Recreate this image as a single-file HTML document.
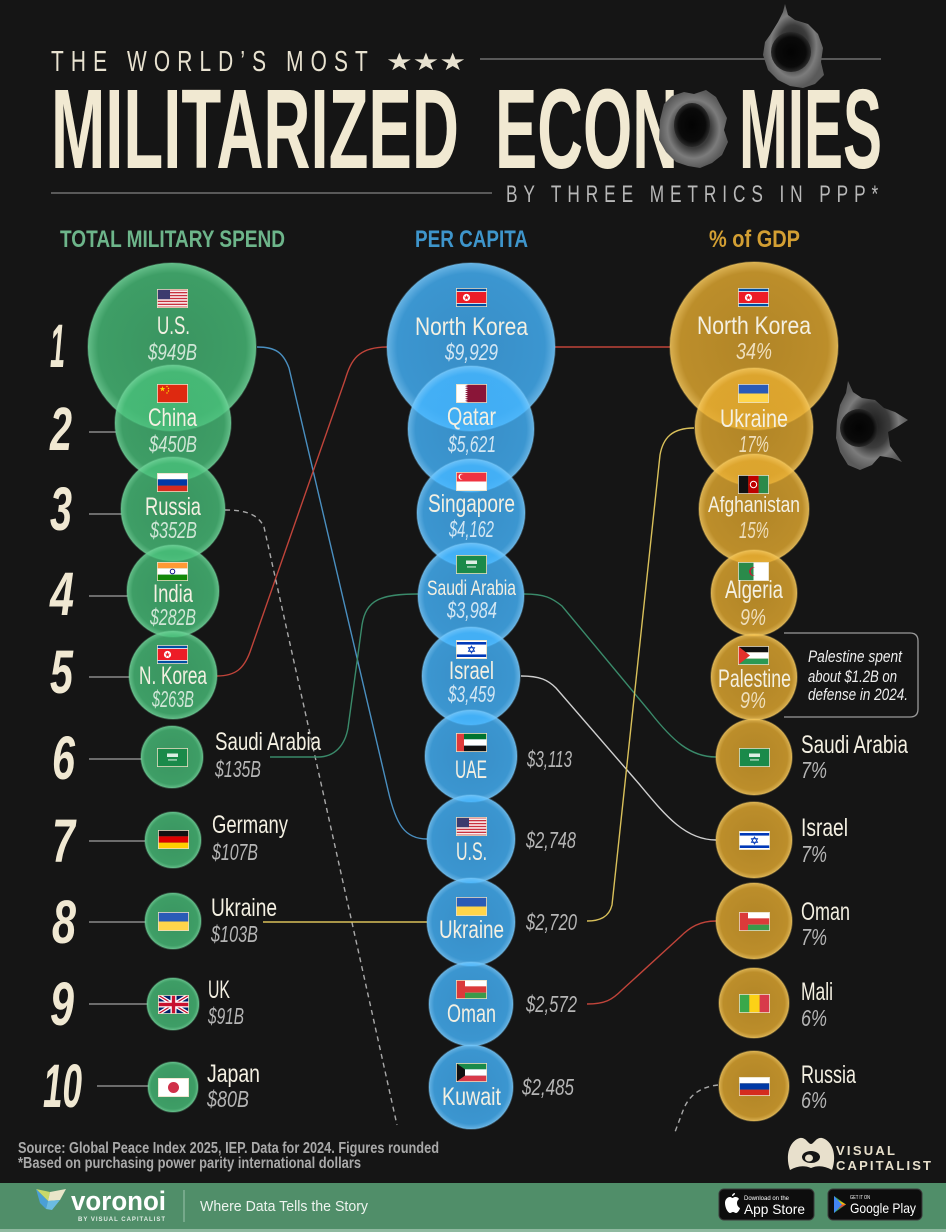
<!DOCTYPE html>
<html><head><meta charset="utf-8">
<style>
html,body{margin:0;padding:0;background:#151515;}
svg{display:block;}
.n{fill:#f4f0e2;font-size:25px;}
.v{font-style:italic;font-size:23px;}
.vg{fill:#cfe6d6;}
.vb{fill:#d2e6f3;}
.vo{fill:#efdfbd;}
.vx{fill:#b5b5b5;}
.rk{fill:#f0e8d2;font-size:61px;font-style:italic;font-weight:bold;}
</style></head><body>
<svg width="946" height="1232" viewBox="0 0 946 1232" xmlns="http://www.w3.org/2000/svg" font-family="'Liberation Sans Narrow','Liberation Sans',sans-serif">
<defs>
<radialGradient id="gG"><stop offset="0" stop-color="#46bc78" stop-opacity="0.76"/><stop offset="0.88" stop-color="#48c07a" stop-opacity="0.8"/><stop offset="1" stop-color="#6ed498" stop-opacity="0.88"/></radialGradient>
<radialGradient id="gB"><stop offset="0" stop-color="#43b4ff" stop-opacity="0.76"/><stop offset="0.88" stop-color="#45b6ff" stop-opacity="0.8"/><stop offset="1" stop-color="#72c8ff" stop-opacity="0.88"/></radialGradient>
<radialGradient id="gO"><stop offset="0" stop-color="#e2a82c" stop-opacity="0.76"/><stop offset="0.88" stop-color="#e6ac30" stop-opacity="0.8"/><stop offset="1" stop-color="#f5c65a" stop-opacity="0.88"/></radialGradient>
<radialGradient id="holeRing"><stop offset="0" stop-color="#1a1a1a"/><stop offset="0.5" stop-color="#3c3c3c"/><stop offset="0.75" stop-color="#7c7c7c"/><stop offset="1" stop-color="#5a5a5a"/></radialGradient>
<radialGradient id="holeIn"><stop offset="0" stop-color="#030303"/><stop offset="0.75" stop-color="#0a0a0a"/><stop offset="1" stop-color="#2a2a2a"/></radialGradient>

<symbol id="f-us" viewBox="0 0 31 19"><rect width="31" height="19" fill="#fff"/><rect y="0" width="31" height="1.46" fill="#c8313e"/><rect y="2.92" width="31" height="1.46" fill="#c8313e"/><rect y="5.85" width="31" height="1.46" fill="#c8313e"/><rect y="8.77" width="31" height="1.46" fill="#c8313e"/><rect y="11.69" width="31" height="1.46" fill="#c8313e"/><rect y="14.62" width="31" height="1.46" fill="#c8313e"/><rect y="17.54" width="31" height="1.46" fill="#c8313e"/><rect width="13" height="10.2" fill="#3c3b6e"/><rect x=".4" y=".4" width="30.2" height="18.2" fill="none" stroke="#e9dfc4" stroke-width=".8"/></symbol>
<symbol id="f-cn" viewBox="0 0 31 19"><rect width="31" height="19" fill="#de2910"/><polygon points="5.5,2 6.18,4.07 8.35,4.07 6.59,5.36 7.26,7.43 5.5,6.15 3.74,7.43 4.41,5.36 2.65,4.07 4.82,4.07" fill="#ffde00"/><circle cx="10" cy="2.5" r=".7" fill="#ffde00"/><circle cx="11.5" cy="4.5" r=".7" fill="#ffde00"/><circle cx="11.5" cy="7" r=".7" fill="#ffde00"/><circle cx="10" cy="9" r=".7" fill="#ffde00"/><rect x=".4" y=".4" width="30.2" height="18.2" fill="none" stroke="#e9dfc4" stroke-width=".8"/></symbol>
<symbol id="f-ru" viewBox="0 0 31 19"><rect width="31" height="6.33" fill="#fff"/><rect y="6.33" width="31" height="6.34" fill="#0039a6"/><rect y="12.67" width="31" height="6.33" fill="#d52b1e"/><rect x=".4" y=".4" width="30.2" height="18.2" fill="none" stroke="#e9dfc4" stroke-width=".8"/></symbol>
<symbol id="f-in" viewBox="0 0 31 19"><rect width="31" height="6.33" fill="#ff9933"/><rect y="6.33" width="31" height="6.34" fill="#fff"/><rect y="12.67" width="31" height="6.33" fill="#138808"/><circle cx="15.5" cy="9.5" r="2.3" fill="none" stroke="#000080" stroke-width=".9"/><rect x=".4" y=".4" width="30.2" height="18.2" fill="none" stroke="#e9dfc4" stroke-width=".8"/></symbol>
<symbol id="f-kp" viewBox="0 0 31 19"><rect width="31" height="19" fill="#024fa2"/><rect y="3.2" width="31" height="12.6" fill="#fff"/><rect y="4" width="31" height="11" fill="#ed1c27"/><circle cx="10.5" cy="9.5" r="3.6" fill="#fff"/><polygon points="10.5,6.8 11.13,8.73 13.16,8.73 11.52,9.93 12.15,11.87 10.5,10.67 8.85,11.87 9.48,9.93 7.84,8.73 9.87,8.73" fill="#ed1c27"/><rect x=".4" y=".4" width="30.2" height="18.2" fill="none" stroke="#e9dfc4" stroke-width=".8"/></symbol>
<symbol id="f-sa" viewBox="0 0 31 19"><rect width="31" height="19" fill="#1a8a4a"/><rect x="10" y="5.5" width="11" height="3.5" fill="#fff" opacity=".85"/><rect x="11" y="11.5" width="9" height=".9" fill="#fff"/><rect x=".4" y=".4" width="30.2" height="18.2" fill="none" stroke="#e9dfc4" stroke-width=".8"/></symbol>
<symbol id="f-de" viewBox="0 0 31 19"><rect width="31" height="6.33" fill="#111"/><rect y="6.33" width="31" height="6.34" fill="#dd0000"/><rect y="12.67" width="31" height="6.33" fill="#ffce00"/><rect x=".4" y=".4" width="30.2" height="18.2" fill="none" stroke="#e9dfc4" stroke-width=".8"/></symbol>
<symbol id="f-ua" viewBox="0 0 31 19"><rect width="31" height="9.5" fill="#2a5bb7"/><rect y="9.5" width="31" height="9.5" fill="#ffd54a"/><rect x=".4" y=".4" width="30.2" height="18.2" fill="none" stroke="#e9dfc4" stroke-width=".8"/></symbol>
<symbol id="f-gb" viewBox="0 0 31 19"><rect width="31" height="19" fill="#012169"/><path d="M0,0 L31,19 M31,0 L0,19" stroke="#fff" stroke-width="3.8"/><path d="M0,0 L31,19 M31,0 L0,19" stroke="#c8102e" stroke-width="1.2"/><path d="M15.5,0 V19 M0,9.5 H31" stroke="#fff" stroke-width="6"/><path d="M15.5,0 V19 M0,9.5 H31" stroke="#c8102e" stroke-width="3.4"/><rect x=".4" y=".4" width="30.2" height="18.2" fill="none" stroke="#e9dfc4" stroke-width=".8"/></symbol>
<symbol id="f-jp" viewBox="0 0 31 19"><rect width="31" height="19" fill="#fff"/><circle cx="15.5" cy="9.5" r="5.5" fill="#d0304a"/><rect x=".4" y=".4" width="30.2" height="18.2" fill="none" stroke="#e9dfc4" stroke-width=".8"/></symbol>
<symbol id="f-qa" viewBox="0 0 31 19"><rect width="31" height="19" fill="#8a1538"/><polygon points="0,0 9,0 12,1.06 9,2.11 12,3.17 9,4.22 12,5.28 9,6.33 12,7.39 9,8.44 12,9.5 9,10.56 12,11.61 9,12.67 12,13.72 9,14.78 12,15.83 9,16.89 12,17.94 9,19 0,19" fill="#fff"/><rect x=".4" y=".4" width="30.2" height="18.2" fill="none" stroke="#e9dfc4" stroke-width=".8"/></symbol>
<symbol id="f-sg" viewBox="0 0 31 19"><rect width="31" height="9.5" fill="#ef3340"/><rect y="9.5" width="31" height="9.5" fill="#fff"/><circle cx="5.5" cy="4.8" r="3" fill="#fff"/><circle cx="6.6" cy="4.8" r="2.7" fill="#ef3340"/><rect x=".4" y=".4" width="30.2" height="18.2" fill="none" stroke="#e9dfc4" stroke-width=".8"/></symbol>
<symbol id="f-il" viewBox="0 0 31 19"><rect width="31" height="19" fill="#fff"/><rect y="2" width="31" height="2.6" fill="#0038b8"/><rect y="14.4" width="31" height="2.6" fill="#0038b8"/><polygon points="15.5,5.9 18.62,11.3 12.38,11.3" fill="none" stroke="#0038b8" stroke-width=".8"/><polygon points="15.5,13.1 18.62,7.7 12.38,7.7" fill="none" stroke="#0038b8" stroke-width=".8"/><rect x=".4" y=".4" width="30.2" height="18.2" fill="none" stroke="#e9dfc4" stroke-width=".8"/></symbol>
<symbol id="f-ae" viewBox="0 0 31 19"><rect width="31" height="6.33" fill="#00732f"/><rect y="6.33" width="31" height="6.34" fill="#fff"/><rect y="12.67" width="31" height="6.33" fill="#111"/><rect width="8" height="19" fill="#e03a3a"/><rect x=".4" y=".4" width="30.2" height="18.2" fill="none" stroke="#e9dfc4" stroke-width=".8"/></symbol>
<symbol id="f-om" viewBox="0 0 31 19"><rect width="31" height="19" fill="#fff"/><rect y="6.33" width="31" height="6.34" fill="#db3a3a"/><rect y="12.67" width="31" height="6.33" fill="#3a9a4a"/><rect width="9" height="19" fill="#db3a3a"/><rect x=".4" y=".4" width="30.2" height="18.2" fill="none" stroke="#e9dfc4" stroke-width=".8"/></symbol>
<symbol id="f-kw" viewBox="0 0 31 19"><rect width="31" height="6.33" fill="#1a8a4a"/><rect y="6.33" width="31" height="6.34" fill="#fff"/><rect y="12.67" width="31" height="6.33" fill="#d83a4a"/><polygon points="0,0 9,6.33 9,12.67 0,19" fill="#111"/><rect x=".4" y=".4" width="30.2" height="18.2" fill="none" stroke="#e9dfc4" stroke-width=".8"/></symbol>
<symbol id="f-af" viewBox="0 0 31 19"><rect width="10.33" height="19" fill="#111"/><rect x="10.33" width="10.34" height="19" fill="#be0000"/><rect x="20.67" width="10.33" height="19" fill="#2a8a4a"/><circle cx="15.5" cy="9.5" r="3.2" fill="none" stroke="#fff" stroke-width="1"/><rect x=".4" y=".4" width="30.2" height="18.2" fill="none" stroke="#e9dfc4" stroke-width=".8"/></symbol>
<symbol id="f-dz" viewBox="0 0 31 19"><rect width="15.5" height="19" fill="#2a8a4a"/><rect x="15.5" width="15.5" height="19" fill="#fff"/><path d="M17,5.2 A4.5,4.5 0 1 0 17,13.8 A3.6,3.6 0 1 1 17,5.2 Z" fill="#d21034"/><rect x=".4" y=".4" width="30.2" height="18.2" fill="none" stroke="#e9dfc4" stroke-width=".8"/></symbol>
<symbol id="f-ps" viewBox="0 0 31 19"><rect width="31" height="6.33" fill="#111"/><rect y="6.33" width="31" height="6.34" fill="#fff"/><rect y="12.67" width="31" height="6.33" fill="#2a9954"/><polygon points="0,0 12,9.5 0,19" fill="#e4312b"/><rect x=".4" y=".4" width="30.2" height="18.2" fill="none" stroke="#e9dfc4" stroke-width=".8"/></symbol>
<symbol id="f-ml" viewBox="0 0 31 19"><rect width="10.33" height="19" fill="#3aa84a"/><rect x="10.33" width="10.34" height="19" fill="#fcd116"/><rect x="20.67" width="10.33" height="19" fill="#d83a4a"/><rect x=".4" y=".4" width="30.2" height="18.2" fill="none" stroke="#e9dfc4" stroke-width=".8"/></symbol>
</defs>

<rect width="946" height="1232" fill="#151515"/>

<!-- HEADER -->
<text transform="translate(51,71) scale(0.72,1)" font-size="29" fill="#e8e2d0" textLength="440" lengthAdjust="spacing">THE WORLD’S MOST</text>
<text x="386" y="70" font-size="24" fill="#e8e2d0" font-family="'DejaVu Sans',sans-serif" textLength="80" lengthAdjust="spacingAndGlyphs">★★★</text>
<line x1="480" y1="59" x2="881" y2="59" stroke="#707070" stroke-width="1.5"/>
<text x="51" y="168" font-size="113" font-weight="bold" fill="#f1e9d2" textLength="408" lengthAdjust="spacingAndGlyphs">MILITARIZED</text>
<text x="495" y="168" font-size="113" font-weight="bold" fill="#f1e9d2" textLength="183" lengthAdjust="spacingAndGlyphs">ECON</text>
<text x="739" y="168" font-size="113" font-weight="bold" fill="#f1e9d2" textLength="143" lengthAdjust="spacingAndGlyphs">MIES</text>
<line x1="51" y1="193" x2="492" y2="193" stroke="#707070" stroke-width="1.5"/>
<text transform="translate(506,202) scale(0.72,1)" font-size="24" fill="#b8b8b8" textLength="517" lengthAdjust="spacing">BY THREE METRICS IN PPP*</text>

<!-- bullet holes -->
<path d="M660,120 L664,104 672,96 684,92 694,94 706,90 716,97 722,108 727,118 724,130 728,142 722,155 712,163 700,168 688,166 676,162 666,152 659,140 Z" fill="url(#holeRing)"/>
<ellipse cx="692" cy="125" rx="18" ry="22" fill="url(#holeIn)"/>
<path d="M770,35 L778,22 783,12 785,4 788,15 795,20 808,24 818,34 823,48 821,62 824,75 815,84 803,88 790,86 778,80 768,70 763,55 765,42 Z" fill="url(#holeRing)"/>
<ellipse cx="791" cy="52" rx="20" ry="20" fill="url(#holeIn)"/>
<path d="M840,405 L846,393 848,381 853,392 862,398 875,400 884,408 895,412 908,420 897,427 888,432 890,446 902,462 892,458 880,456 872,465 860,470 848,465 840,452 836,438 837,420 Z" fill="url(#holeRing)"/>
<circle cx="859" cy="428" r="19" fill="url(#holeIn)"/>

<!-- column headers -->
<text x="60" y="247" font-size="24" font-weight="bold" fill="#6db58a" textLength="225" lengthAdjust="spacingAndGlyphs">TOTAL MILITARY SPEND</text>
<text x="415" y="247" font-size="24" font-weight="bold" fill="#3e95cb" textLength="113" lengthAdjust="spacingAndGlyphs">PER CAPITA</text>
<text x="709" y="247" font-size="24" font-weight="bold" fill="#d39f33" textLength="91" lengthAdjust="spacingAndGlyphs">% of GDP</text>

<!-- rank numbers -->
<text class="rk" x="50" y="367" textLength="15" lengthAdjust="spacingAndGlyphs">1</text>
<text class="rk" x="50" y="450" textLength="22" lengthAdjust="spacingAndGlyphs">2</text>
<text class="rk" x="50" y="530" textLength="22" lengthAdjust="spacingAndGlyphs">3</text>
<text class="rk" x="50" y="615" textLength="24" lengthAdjust="spacingAndGlyphs">4</text>
<text class="rk" x="50" y="693" textLength="23" lengthAdjust="spacingAndGlyphs">5</text>
<text class="rk" x="52" y="779" textLength="23" lengthAdjust="spacingAndGlyphs">6</text>
<text class="rk" x="52" y="862" textLength="23" lengthAdjust="spacingAndGlyphs">7</text>
<text class="rk" x="52" y="943" textLength="24" lengthAdjust="spacingAndGlyphs">8</text>
<text class="rk" x="50" y="1025" textLength="24" lengthAdjust="spacingAndGlyphs">9</text>
<text class="rk" x="43" y="1107" textLength="39" lengthAdjust="spacingAndGlyphs">10</text>

<!-- rank connectors -->
<g stroke="#8a8a8a" stroke-width="1.5">
<line x1="89" y1="432" x2="116" y2="432"/>
<line x1="89" y1="514" x2="122" y2="514"/>
<line x1="89" y1="596" x2="128" y2="596"/>
<line x1="89" y1="677" x2="130" y2="677"/>
<line x1="89" y1="759" x2="142" y2="759"/>
<line x1="89" y1="841" x2="145" y2="841"/>
<line x1="89" y1="922" x2="146" y2="922"/>
<line x1="89" y1="1004" x2="148" y2="1004"/>
<line x1="97" y1="1086" x2="149" y2="1086"/>
</g>

<!-- flow lines -->
<g fill="none" stroke-width="1.4">
<path d="M257,347 C275,347 283,352 289,368 L388,790 C396,825 405,839 427,839" stroke="#4a8fc0"/>
<path d="M217,676 C236,676 244,668 250,652 L345,380 C351,360 358,347 387,347" stroke="#c0443a"/>
<path d="M555,347 H670" stroke="#c0443a"/>
<path d="M225,510 C245,510 258,514 264,527 L397,1125" stroke="#a8a8a8" stroke-dasharray="5,4"/>
<path d="M718,1085 C700,1087 690,1095 684,1108 L675,1132" stroke="#a8a8a8" stroke-dasharray="5,4"/>
<path d="M270,757 H318 C335,757 345,745 348,728 L362,625 C366,600 380,594 418,594" stroke="#3a8a6a"/>
<path d="M524,594 C545,594 552,598 562,606 L650,712 C672,740 690,757 716,757" stroke="#3a8a6a"/>
<path d="M521,676 C540,676 548,680 556,688 L640,785 C665,815 685,840 716,840" stroke="#cfcfcf"/>
<path d="M263,922 H427" stroke="#d9c05a"/>
<path d="M587,921 C600,921 609,917 612,905 L660,455 C663,438 672,428 694,428" stroke="#d9c05a"/>
<path d="M587,1004 C605,1004 612,1000 622,990 L680,937 C690,927 700,921 716,921" stroke="#c0443a"/>
</g>

<!-- callout box -->
<path d="M784,633 H910 Q918,633 918,641 V709 Q918,717 910,717 H784" fill="none" stroke="#9a9a9a" stroke-width="1.3"/>

<!-- GREEN bubbles -->
<g fill="url(#gG)" stroke="#6fcf98" stroke-opacity="0.35" stroke-width="1.5">
<circle cx="172" cy="347" r="84"/>
<circle cx="173" cy="423" r="58"/>
<circle cx="173" cy="509" r="52"/>
<circle cx="173" cy="591" r="46"/>
<circle cx="173" cy="675" r="44"/>
<circle cx="172" cy="757" r="31"/>
<circle cx="173" cy="840" r="28"/>
<circle cx="173" cy="921" r="28"/>
<circle cx="173" cy="1004" r="26"/>
<circle cx="173" cy="1087" r="25"/>
</g>
<!-- BLUE bubbles -->
<g fill="url(#gB)" stroke="#7cc8f5" stroke-opacity="0.35" stroke-width="1.5">
<circle cx="471" cy="347" r="84"/>
<circle cx="471" cy="429" r="63"/>
<circle cx="471" cy="513" r="54"/>
<circle cx="471" cy="596" r="53"/>
<circle cx="471" cy="676" r="49"/>
<circle cx="471" cy="756" r="46"/>
<circle cx="471" cy="839" r="44"/>
<circle cx="471" cy="922" r="44"/>
<circle cx="471" cy="1004" r="42"/>
<circle cx="471" cy="1087" r="42"/>
</g>
<!-- GOLD bubbles -->
<g fill="url(#gO)" stroke="#f0c860" stroke-opacity="0.35" stroke-width="1.5">
<circle cx="754" cy="346" r="84"/>
<circle cx="754" cy="427" r="59"/>
<circle cx="754" cy="509" r="55"/>
<circle cx="754" cy="593" r="43"/>
<circle cx="754" cy="677" r="43"/>
<circle cx="754" cy="757" r="38"/>
<circle cx="754" cy="840" r="38"/>
<circle cx="754" cy="921" r="38"/>
<circle cx="754" cy="1003" r="35"/>
<circle cx="754" cy="1086" r="35"/>
</g>

<!-- flags green -->
<use href="#f-us" x="157" y="289" width="31" height="19"/>
<use href="#f-cn" x="157" y="384" width="31" height="19"/>
<use href="#f-ru" x="157" y="473" width="31" height="19"/>
<use href="#f-in" x="157" y="562" width="31" height="19"/>
<use href="#f-kp" x="157" y="645" width="31" height="19"/>
<use href="#f-sa" x="157" y="748" width="31" height="19"/>
<use href="#f-de" x="158" y="830" width="31" height="19"/>
<use href="#f-ua" x="158" y="912" width="31" height="19"/>
<use href="#f-gb" x="158" y="995" width="31" height="19"/>
<use href="#f-jp" x="158" y="1078" width="31" height="19"/>
<!-- flags blue -->
<use href="#f-kp" x="456" y="288" width="31" height="19"/>
<use href="#f-qa" x="456" y="384" width="31" height="19"/>
<use href="#f-sg" x="456" y="472" width="31" height="19"/>
<use href="#f-sa" x="456" y="555" width="31" height="19"/>
<use href="#f-il" x="456" y="640" width="31" height="19"/>
<use href="#f-ae" x="456" y="733" width="31" height="19"/>
<use href="#f-us" x="456" y="817" width="31" height="19"/>
<use href="#f-ua" x="456" y="897" width="31" height="19"/>
<use href="#f-om" x="456" y="980" width="31" height="19"/>
<use href="#f-kw" x="456" y="1063" width="31" height="19"/>
<!-- flags gold -->
<use href="#f-kp" x="738" y="288" width="31" height="19"/>
<use href="#f-ua" x="738" y="384" width="31" height="19"/>
<use href="#f-af" x="738" y="475" width="31" height="19"/>
<use href="#f-dz" x="738" y="562" width="31" height="19"/>
<use href="#f-ps" x="738" y="646" width="31" height="19"/>
<use href="#f-sa" x="739" y="748" width="31" height="19"/>
<use href="#f-il" x="739" y="831" width="31" height="19"/>
<use href="#f-om" x="739" y="912" width="31" height="19"/>
<use href="#f-ml" x="739" y="994" width="31" height="19"/>
<use href="#f-ru" x="739" y="1077" width="31" height="19"/>

<!-- GREEN text -->
<text class="n" x="157" y="334" textLength="33" lengthAdjust="spacingAndGlyphs">U.S.</text>
<text class="v vg" x="148" y="360" textLength="49" lengthAdjust="spacingAndGlyphs">$949B</text>
<text class="n" x="148" y="426" textLength="49" lengthAdjust="spacingAndGlyphs">China</text>
<text class="v vg" x="149" y="452" textLength="48" lengthAdjust="spacingAndGlyphs">$450B</text>
<text class="n" x="145" y="515" textLength="56" lengthAdjust="spacingAndGlyphs">Russia</text>
<text class="v vg" x="150" y="538" textLength="47" lengthAdjust="spacingAndGlyphs">$352B</text>
<text class="n" x="153" y="602" textLength="40" lengthAdjust="spacingAndGlyphs">India</text>
<text class="v vg" x="150" y="625" textLength="46" lengthAdjust="spacingAndGlyphs">$282B</text>
<text class="n" x="139" y="684" textLength="68" lengthAdjust="spacingAndGlyphs">N. Korea</text>
<text class="v vg" x="152" y="707" textLength="42" lengthAdjust="spacingAndGlyphs">$263B</text>

<text class="n" x="215" y="750" textLength="106" lengthAdjust="spacingAndGlyphs">Saudi Arabia</text>
<text class="v vx" x="215" y="777" textLength="46" lengthAdjust="spacingAndGlyphs">$135B</text>
<text class="n" x="212" y="833" textLength="76" lengthAdjust="spacingAndGlyphs">Germany</text>
<text class="v vx" x="212" y="860" textLength="46" lengthAdjust="spacingAndGlyphs">$107B</text>
<text class="n" x="211" y="916" textLength="66" lengthAdjust="spacingAndGlyphs">Ukraine</text>
<text class="v vx" x="211" y="942" textLength="47" lengthAdjust="spacingAndGlyphs">$103B</text>
<text class="n" x="208" y="998" textLength="22" lengthAdjust="spacingAndGlyphs">UK</text>
<text class="v vx" x="208" y="1024" textLength="36" lengthAdjust="spacingAndGlyphs">$91B</text>
<text class="n" x="207" y="1082" textLength="53" lengthAdjust="spacingAndGlyphs">Japan</text>
<text class="v vx" x="207" y="1107" textLength="42" lengthAdjust="spacingAndGlyphs">$80B</text>

<!-- BLUE text -->
<text class="n" x="415" y="335" textLength="113" lengthAdjust="spacingAndGlyphs">North Korea</text>
<text class="v vb" x="445" y="360" textLength="53" lengthAdjust="spacingAndGlyphs">$9,929</text>
<text class="n" x="447" y="425" textLength="49" lengthAdjust="spacingAndGlyphs">Qatar</text>
<text class="v vb" x="448" y="452" textLength="48" lengthAdjust="spacingAndGlyphs">$5,621</text>
<text class="n" x="428" y="512" textLength="87" lengthAdjust="spacingAndGlyphs">Singapore</text>
<text class="v vb" x="449" y="537" textLength="45" lengthAdjust="spacingAndGlyphs">$4,162</text>
<text class="n" x="427" y="595" style="font-size:21px" textLength="89" lengthAdjust="spacingAndGlyphs">Saudi Arabia</text>
<text class="v vb" x="447" y="618" textLength="50" lengthAdjust="spacingAndGlyphs">$3,984</text>
<text class="n" x="449" y="679" textLength="45" lengthAdjust="spacingAndGlyphs">Israel</text>
<text class="v vb" x="448" y="702" textLength="47" lengthAdjust="spacingAndGlyphs">$3,459</text>
<text class="n" x="455" y="778" textLength="32" lengthAdjust="spacingAndGlyphs">UAE</text>
<text class="n" x="456" y="860" textLength="31" lengthAdjust="spacingAndGlyphs">U.S.</text>
<text class="n" x="439" y="938" textLength="65" lengthAdjust="spacingAndGlyphs">Ukraine</text>
<text class="n" x="447" y="1022" textLength="49" lengthAdjust="spacingAndGlyphs">Oman</text>
<text class="n" x="442" y="1105" textLength="59" lengthAdjust="spacingAndGlyphs">Kuwait</text>
<text class="v vx" x="527" y="767" textLength="45" lengthAdjust="spacingAndGlyphs">$3,113</text>
<text class="v vx" x="526" y="848" textLength="50" lengthAdjust="spacingAndGlyphs">$2,748</text>
<text class="v vx" x="526" y="930" textLength="51" lengthAdjust="spacingAndGlyphs">$2,720</text>
<text class="v vx" x="526" y="1012" textLength="51" lengthAdjust="spacingAndGlyphs">$2,572</text>
<text class="v vx" x="522" y="1095" textLength="52" lengthAdjust="spacingAndGlyphs">$2,485</text>

<!-- GOLD text -->
<text class="n" x="697" y="334" textLength="114" lengthAdjust="spacingAndGlyphs">North Korea</text>
<text class="v vo" x="736" y="359" textLength="36" lengthAdjust="spacingAndGlyphs">34%</text>
<text class="n" x="720" y="427" textLength="68" lengthAdjust="spacingAndGlyphs">Ukraine</text>
<text class="v vo" x="739" y="452" textLength="30" lengthAdjust="spacingAndGlyphs">17%</text>
<text class="n" x="708" y="512" style="font-size:22px" textLength="92" lengthAdjust="spacingAndGlyphs">Afghanistan</text>
<text class="v vo" x="739" y="538" textLength="30" lengthAdjust="spacingAndGlyphs">15%</text>
<text class="n" x="725" y="598" textLength="58" lengthAdjust="spacingAndGlyphs">Algeria</text>
<text class="v vo" x="740" y="625" textLength="26" lengthAdjust="spacingAndGlyphs">9%</text>
<text class="n" x="718" y="687" textLength="73" lengthAdjust="spacingAndGlyphs">Palestine</text>
<text class="v vo" x="740" y="708" textLength="26" lengthAdjust="spacingAndGlyphs">9%</text>

<text class="n" x="801" y="753" textLength="107" lengthAdjust="spacingAndGlyphs">Saudi Arabia</text>
<text class="v vx" x="801" y="778" textLength="26" lengthAdjust="spacingAndGlyphs">7%</text>
<text class="n" x="801" y="836" textLength="47" lengthAdjust="spacingAndGlyphs">Israel</text>
<text class="v vx" x="801" y="862" textLength="26" lengthAdjust="spacingAndGlyphs">7%</text>
<text class="n" x="801" y="920" textLength="49" lengthAdjust="spacingAndGlyphs">Oman</text>
<text class="v vx" x="801" y="945" textLength="26" lengthAdjust="spacingAndGlyphs">7%</text>
<text class="n" x="801" y="1000" textLength="32" lengthAdjust="spacingAndGlyphs">Mali</text>
<text class="v vx" x="801" y="1026" textLength="26" lengthAdjust="spacingAndGlyphs">6%</text>
<text class="n" x="801" y="1083" textLength="55" lengthAdjust="spacingAndGlyphs">Russia</text>
<text class="v vx" x="801" y="1108" textLength="26" lengthAdjust="spacingAndGlyphs">6%</text>

<!-- callout text -->
<g fill="#eeeeee" font-style="italic" font-size="17">
<text x="808" y="662" textLength="94" lengthAdjust="spacingAndGlyphs">Palestine spent</text>
<text x="808" y="682" textLength="89" lengthAdjust="spacingAndGlyphs">about $1.2B on</text>
<text x="808" y="700" textLength="100" lengthAdjust="spacingAndGlyphs">defense in 2024.</text>
</g>

<!-- FOOTER -->
<text x="18" y="1153" font-size="16" font-weight="bold" fill="#a9a9a9" textLength="421" lengthAdjust="spacingAndGlyphs">Source: Global Peace Index 2025, IEP. Data for 2024. Figures rounded</text>
<text x="18" y="1168" font-size="16" font-weight="bold" fill="#a9a9a9" textLength="343" lengthAdjust="spacingAndGlyphs">*Based on purchasing power parity international dollars</text>

<path d="M790,1170 C785,1156 789,1141 800,1138 C806,1137 808,1144 811,1144 C814,1144 816,1137 822,1138 C833,1141 837,1156 832,1170 C825,1166 818,1165 811,1168 C804,1165 797,1166 790,1170 Z" fill="#e8e0cc"/>
<ellipse cx="811" cy="1157" rx="9" ry="6" fill="#151515"/>
<ellipse cx="809" cy="1158" rx="4" ry="3.5" fill="#e8e0cc"/>
<text x="836" y="1155" font-size="13" font-weight="bold" fill="#e8e0cc" textLength="59" lengthAdjust="spacing">VISUAL</text>
<text x="836" y="1170" font-size="13" font-weight="bold" fill="#e8e0cc" textLength="95" lengthAdjust="spacing">CAPITALIST</text>

<rect x="0" y="1183" width="946" height="49" fill="#508e69"/>
<rect x="0" y="1229" width="946" height="3" fill="#8fb9a0"/>
<!-- voronoi -->
<polygon points="36,1189 50,1192 48,1201" fill="#c9d86a"/>
<polygon points="50,1192 66,1189 60,1200 48,1201" fill="#e9e5c9"/>
<polygon points="36,1189 48,1201 46,1209 40,1203" fill="#4a9fd6"/>
<polygon points="48,1201 60,1200 52,1210 46,1209" fill="#6bbbe2"/>
<text x="71" y="1210" font-size="27" font-weight="bold" fill="#ffffff" textLength="95" lengthAdjust="spacingAndGlyphs">voronoi</text>
<text x="78" y="1221" font-size="6" font-weight="bold" fill="#e0ece4" textLength="87" lengthAdjust="spacing">BY VISUAL CAPITALIST</text>
<line x1="184" y1="1190" x2="184" y2="1222" stroke="#9cc4ad" stroke-width="1"/>
<text x="200" y="1211" font-size="15" fill="#eef4ef" textLength="168" lengthAdjust="spacingAndGlyphs">Where Data Tells the Story</text>

<rect x="719" y="1189" width="95" height="31" rx="5" fill="#0d0d0d" stroke="#3a3a3a"/>
<path d="M730,1197 C727,1197 725,1200 725,1203 C725,1208 728,1213 730,1213 C731,1213 732,1212 733,1212 C734,1212 735,1213 736,1213 C738,1213 740,1209 740,1208 C738,1207 737,1205 737,1203 C737,1201 738,1200 739,1199 C738,1197 736,1197 735,1197 C734,1197 733,1198 732.5,1198 C732,1198 731,1197 730,1197 Z M732,1196 C732,1194 734,1193 735,1193 C735,1195 733,1196 732,1196 Z" fill="#fff"/>
<text x="744" y="1200" font-size="6" fill="#fff" textLength="45" lengthAdjust="spacingAndGlyphs">Download on the</text>
<text x="744" y="1214" font-size="14" fill="#fff" textLength="61" lengthAdjust="spacingAndGlyphs">App Store</text>

<rect x="828" y="1189" width="94" height="31" rx="5" fill="#0d0d0d" stroke="#3a3a3a"/>
<polygon points="834,1196 846,1204.5 834,1213" fill="#34a853"/>
<polygon points="834,1196 842,1204.5 834,1213" fill="#4285f4"/>
<polygon points="842,1204.5 846,1204.5 838,1200" fill="#fbbc04"/>
<polygon points="842,1204.5 846,1204.5 838,1209" fill="#ea4335"/>
<text x="850" y="1199" font-size="5.5" fill="#fff" textLength="20" lengthAdjust="spacingAndGlyphs">GET IT ON</text>
<text x="850" y="1213" font-size="14" fill="#fff" textLength="66" lengthAdjust="spacingAndGlyphs">Google Play</text>
</svg>
</body></html>
